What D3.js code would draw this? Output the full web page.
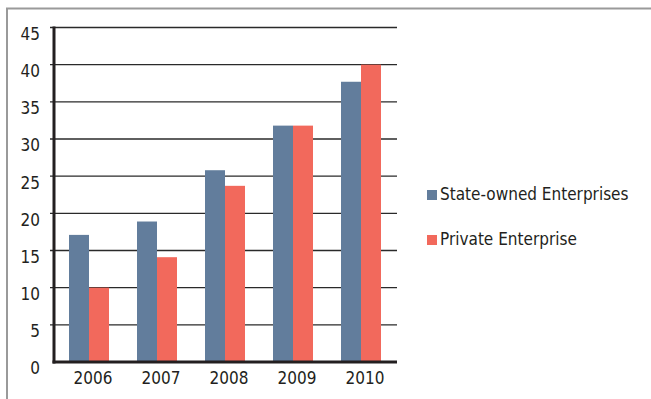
<!DOCTYPE html>
<meta charset="UTF-8">
<head>
    <title>Enterprises</title>
    <style>
        body { margin: 0; background: #fff; }
        text { font-family: "Liberation Sans Narrow", "DejaVu Sans Condensed", "Liberation Sans", sans-serif; fill: #231f20; }
    </style>
</head>
<body>
<svg width="651" height="399"></svg>
<script src="https://d3js.org/d3.v7.min.js"></script>
<script>

// Data.
var years = ["2006", "2007", "2008", "2009", "2010"];
var stateOwned = [17.1, 18.9, 25.8, 31.8, 37.7];
var privateEnt = [10.0, 14.1, 23.7, 31.8, 40.0];
var yTicks = [0, 5, 10, 15, 20, 25, 30, 35, 40, 45];
var seriesNames = ["State-owned Enterprises", "Private Enterprise"];
var colors = ["#627d9c", "#f2695c"];

var svg = d3.select("svg");

// Outer frame (only top and left edges show).
svg.append("path")
    .attr("d", "M7,405V8.5H660")
    .attr("fill", "none")
    .attr("stroke", "#9a9a9a")
    .attr("stroke-width", 2);

var plotLeft = 55, plotRight = 395, plotTop = 27.5, plotBottom = 362;

var x = d3.scaleBand()
    .domain(years)
    .range([plotLeft, plotRight])
    .paddingInner(28 / 68)
    .paddingOuter(14 / 68);

var series = d3.scaleBand()
    .domain([0, 1])
    .range([0, x.bandwidth()]);

var y = d3.scaleLinear()
    .domain([0, 45])
    .range([plotBottom, plotTop]);

// Gridlines with small ticks on the left.
svg.append("g")
    .selectAll("line")
    .data(yTicks.filter(function(d) { return d > 0; }))
    .enter().append("line")
    .attr("x1", 50)
    .attr("x2", 397)
    .attr("y1", function(d) { return y(d); })
    .attr("y2", function(d) { return y(d); })
    .attr("stroke", "#2a2a2a")
    .attr("stroke-width", 1.3);

// Bars
var groups = svg.append("g")
    .selectAll("g")
    .data(years)
    .enter().append("g")
    .attr("transform", function(d) { return "translate(" + x(d) + ",0)"; });

groups.selectAll("rect")
    .data(function(d, i) { return [stateOwned[i], privateEnt[i]]; })
    .enter().append("rect")
    .attr("x", function(d, j) { return series(j); })
    .attr("width", series.bandwidth())
    .attr("y", function(d) { return y(d); })
    .attr("height", function(d) { return y(0) - y(d); })
    .attr("fill", function(d, j) { return colors[j]; });

// Y axis (labels sit a little below their gridline, as in the original)
var yAxis = svg.append("g")
    .attr("transform", "translate(54,0)")
    .call(d3.axisLeft(y).tickValues(yTicks).tickSize(0).tickPadding(14));
yAxis.select(".domain").remove();
yAxis.selectAll("text")
    .attr("font-size", 17)
    .attr("dy", "0.7em");

svg.append("line")
    .attr("x1", 54).attr("x2", 54)
    .attr("y1", plotTop - 1).attr("y2", plotBottom + 1.5)
    .attr("stroke", "#231f20")
    .attr("stroke-width", 3);

// X axis
var xAxis = svg.append("g")
    .attr("transform", "translate(0," + plotBottom + ")")
    .call(d3.axisBottom(x).tickSize(0).tickPadding(10));
xAxis.select(".domain").remove();
xAxis.selectAll("text")
    .attr("font-size", 17)
    .attr("dx", 4)
    .attr("dy", "0.72em");

svg.append("line")
    .attr("x1", 52.5).attr("x2", 397)
    .attr("y1", plotBottom).attr("y2", plotBottom)
    .attr("stroke", "#231f20")
    .attr("stroke-width", 3);

// Legend
var legend = svg.append("g")
    .selectAll("g")
    .data(seriesNames)
    .enter().append("g")
    .attr("transform", function(d, i) { return "translate(427," + (190 + i * 45) + ")"; });

legend.append("rect")
    .attr("width", 10)
    .attr("height", 10)
    .attr("fill", function(d, i) { return colors[i]; });

legend.append("text")
    .attr("x", 13)
    .attr("y", 10)
    .attr("font-size", 17)
    .text(function(d) { return d; });

</script>
</body>
